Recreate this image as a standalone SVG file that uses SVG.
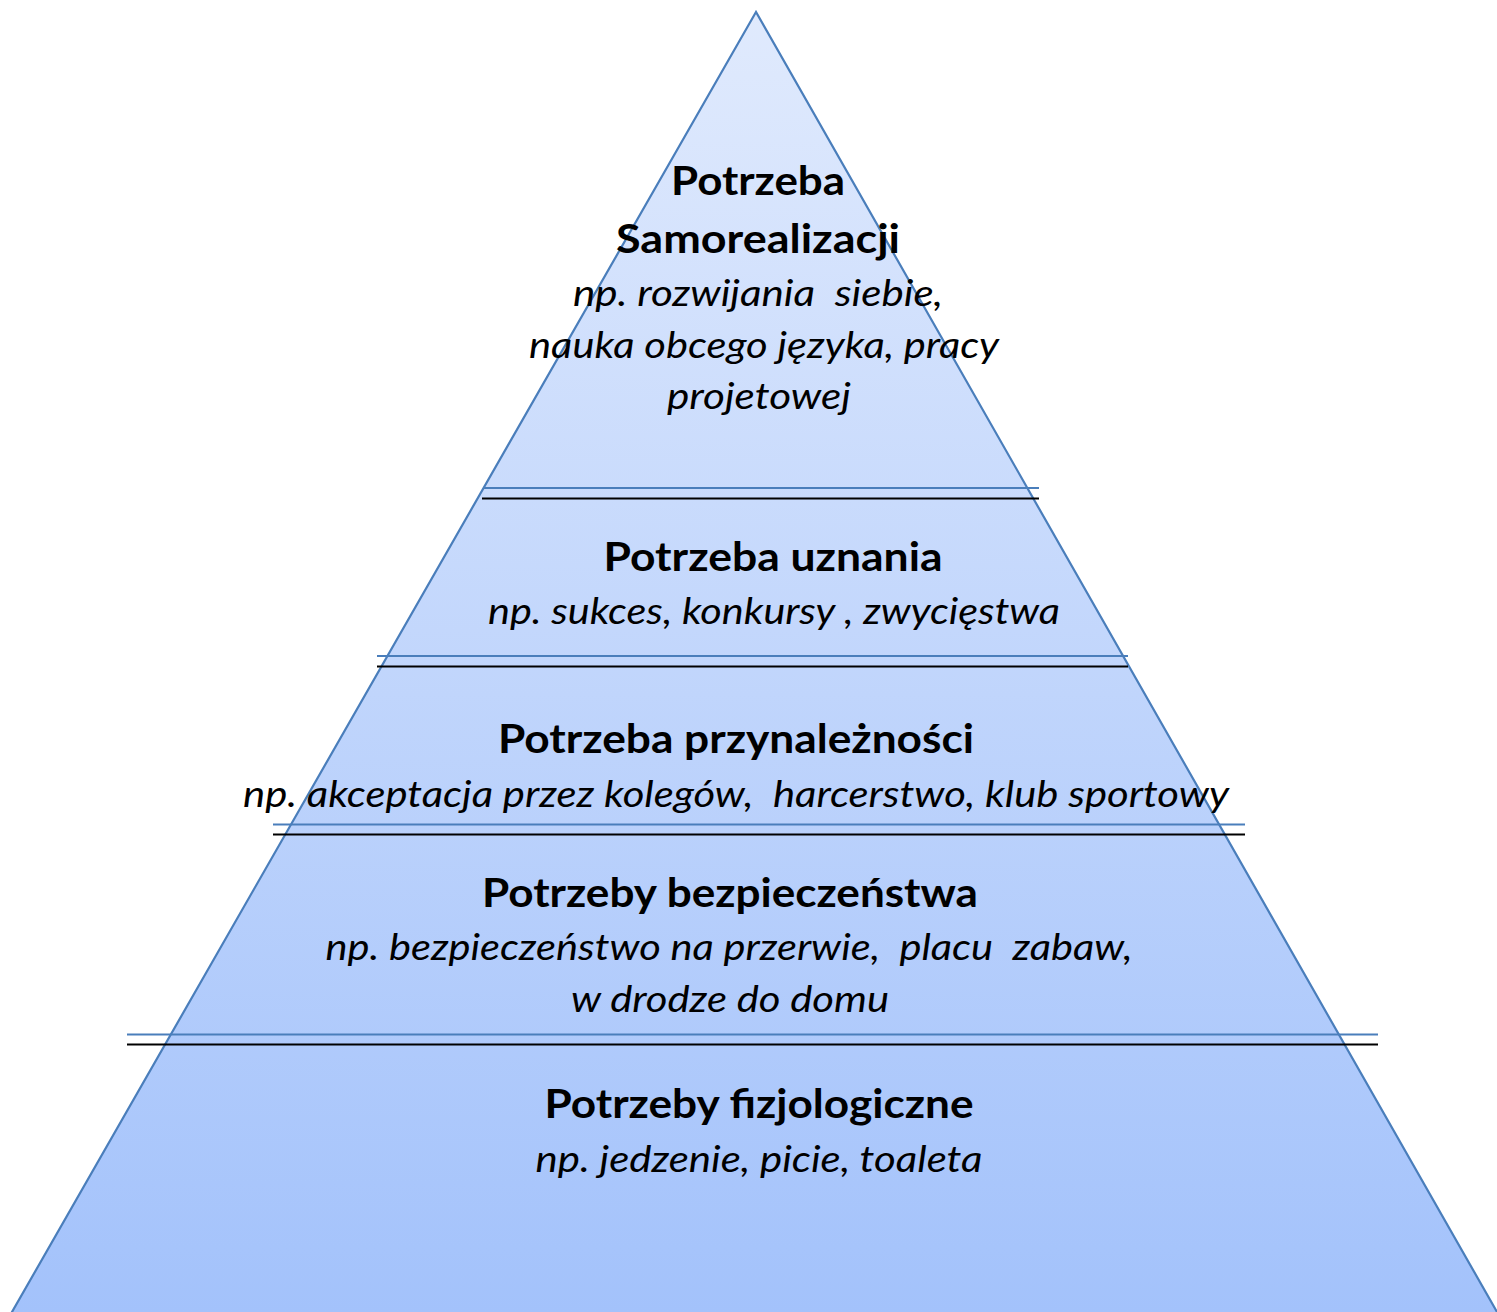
<svg xmlns="http://www.w3.org/2000/svg" width="1497" height="1312" viewBox="0 0 1497 1312">
  <style>
    .title { font-family: Lato, "Open Sans", "Liberation Sans", sans-serif; font-weight: bold; font-size: 41px; fill: #000; text-anchor: middle; white-space: pre; }
    .note { font-family: Lato, "Open Sans", "Liberation Sans", sans-serif; font-style: italic; font-size: 37px; fill: #000; text-anchor: middle; white-space: pre; }
    .sep-blue { stroke: #4a7ebb; stroke-width: 2; }
    .sep-black { stroke: #000; stroke-width: 2.2; }
  </style>
  <defs>
    <linearGradient id="pyrFill" gradientUnits="userSpaceOnUse" x1="0" y1="12" x2="0" y2="1312">
      <stop offset="0" stop-color="#e0eafd"/>
      <stop offset="1" stop-color="#a3c2fb"/>
    </linearGradient>
  </defs>

  <!-- pyramid body; the base runs past the bottom edge so no base stroke shows -->
  <g id="pyramid">
    <polygon points="756,12 7.4,1320 1501.6,1320" fill="url(#pyrFill)" stroke="#4a7ebb" stroke-width="2.2"/>
  </g>

  <!-- level separators (blue + black double rule) -->
  <g id="connectors">
    <line class="sep-blue" x1="483" y1="488" x2="1039" y2="488"/>
    <line class="sep-black" x1="482" y1="498.5" x2="1039" y2="498.5"/>
    <line class="sep-blue" x1="377" y1="656" x2="1128" y2="656"/>
    <line class="sep-black" x1="377" y1="666.5" x2="1128" y2="666.5"/>
    <line class="sep-blue" x1="273" y1="824.5" x2="1245" y2="824.5"/>
    <line class="sep-black" x1="273" y1="834.5" x2="1245" y2="834.5"/>
    <line class="sep-blue" x1="127" y1="1034.5" x2="1378" y2="1034.5"/>
    <line class="sep-black" x1="127" y1="1044.5" x2="1378" y2="1044.5"/>
  </g>

  <g id="level-self-actualization">
    <text class="title" x="758" y="195" textLength="174" lengthAdjust="spacingAndGlyphs">Potrzeba</text>
    <text class="title" x="758" y="253" textLength="284" lengthAdjust="spacingAndGlyphs">Samorealizacji</text>
    <text class="note" x="758" y="306" textLength="370" lengthAdjust="spacingAndGlyphs">np. rozwijania  siebie,</text>
    <text class="note" x="764" y="358" textLength="470" lengthAdjust="spacingAndGlyphs">nauka obcego języka, pracy</text>
    <text class="note" x="759" y="409" textLength="184" lengthAdjust="spacingAndGlyphs">projetowej</text>
  </g>

  <g id="level-esteem">
    <text class="title" x="773" y="571" textLength="339" lengthAdjust="spacingAndGlyphs">Potrzeba uznania</text>
    <text class="note" x="774" y="624" textLength="572" lengthAdjust="spacingAndGlyphs">np. sukces, konkursy , zwycięstwa</text>
  </g>

  <g id="level-belonging">
    <text class="title" x="736" y="753" textLength="476" lengthAdjust="spacingAndGlyphs">Potrzeba przynależności</text>
    <text class="note" x="736" y="807" textLength="986" lengthAdjust="spacingAndGlyphs">np. akceptacja przez kolegów,  harcerstwo, klub sportowy</text>
  </g>

  <g id="level-safety">
    <text class="title" x="730" y="907" textLength="496" lengthAdjust="spacingAndGlyphs">Potrzeby bezpieczeństwa</text>
    <text class="note" x="729" y="960" textLength="807" lengthAdjust="spacingAndGlyphs">np. bezpieczeństwo na przerwie,  placu  zabaw,</text>
    <text class="note" x="730" y="1012" textLength="318" lengthAdjust="spacingAndGlyphs">w drodze do domu</text>
  </g>

  <g id="level-physiological">
    <text class="title" x="759" y="1118" textLength="429" lengthAdjust="spacingAndGlyphs">Potrzeby fizjologiczne</text>
    <text class="note" x="759" y="1172" textLength="447" lengthAdjust="spacingAndGlyphs">np. jedzenie, picie, toaleta</text>
  </g>
</svg>
